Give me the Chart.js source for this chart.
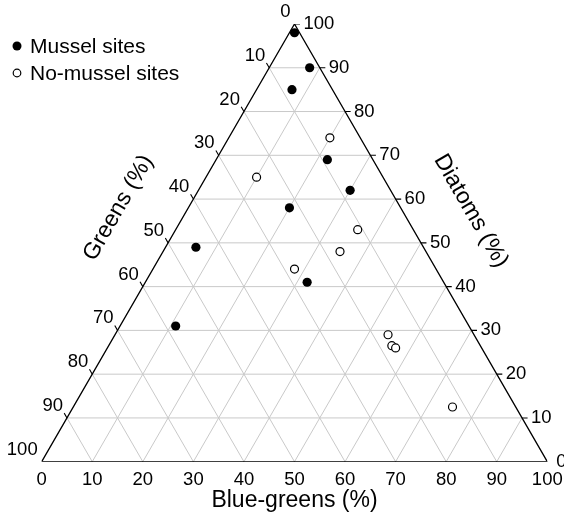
<!DOCTYPE html>
<html>
<head>
<meta charset="utf-8">
<script src="https://cdn.jsdelivr.net/npm/chart.js@4"></script>
<style>
  html, body { margin: 0; padding: 0; background: #fff; }
  canvas { display: block; }
</style>
</head>
<body>
<canvas id="c" width="564" height="516"></canvas>
<script>
// Ternary values (percent). Greens = 100 - blue - diatoms.
const musselBlue    = [1, 8, 7, 22, 30, 20, 6, 32, 11];
const musselDiatom  = [98, 90, 85, 69, 62, 58, 49, 41, 31];
const noMusselBlue   = [20, 10, 36, 35, 28, 54, 56, 57, 75];
const noMusselDiatom = [74, 65, 53, 48, 44, 29, 26.5, 26, 12.5];

const tickValues = [0, 10, 20, 30, 40, 50, 60, 70, 80, 90, 100];
const gridValues = [10, 20, 30, 40, 50, 60, 70, 80, 90];

const H = Math.sqrt(3) / 2;
const FONT_FAMILY = '"Liberation Sans", Arial, Helvetica, sans-serif';
const GRID_COLOR = '#c9c9c9';
const TICK_LEN = 1.1;

// blue-greens / diatoms -> cartesian (x along bottom, y up)
function toXY(b, d) {
  return { x: b + d / 2, y: d * H };
}

function seg(list, p, q) {
  list.push(p, q, { x: NaN, y: null });
}

const gridPts = [];
gridValues.forEach((k) => {
  seg(gridPts, toXY(0, k), toXY(100 - k, k));       // diatoms const
  seg(gridPts, toXY(k, 0), toXY(k, 100 - k));       // blue-greens const
  seg(gridPts, toXY(100 - k, 0), toXY(0, 100 - k)); // greens const
});

const frame = [toXY(0, 0), toXY(100, 0), toXY(0, 100), toXY(0, 0)];

const tickPts = [];
tickValues.forEach((k) => {
  const pb = toXY(k, 0);
  seg(tickPts, pb, { x: pb.x - TICK_LEN * 0.5, y: pb.y - TICK_LEN * H });
  const pr = toXY(100 - k, k);
  seg(tickPts, pr, { x: pr.x + TICK_LEN, y: pr.y });
  const pl = toXY(0, 100 - k);
  seg(tickPts, pl, { x: pl.x - TICK_LEN * 0.5, y: pl.y + TICK_LEN * H });
});

const mussel = musselBlue.map((b, i) => toXY(b, musselDiatom[i]));
const noMussel = noMusselBlue.map((b, i) => toXY(b, noMusselDiatom[i]));

const ternaryText = {
  id: 'ternaryText',
  afterDraw(chart) {
    const { ctx, scales: { x, y } } = chart;
    const px = (p) => ({ x: x.getPixelForValue(p.x), y: y.getPixelForValue(p.y) });
    ctx.save();
    ctx.fillStyle = '#000';
    ctx.font = '18.5px ' + FONT_FAMILY;
    ctx.textBaseline = 'middle';
    // greens labels on the left edge
    ctx.textAlign = 'right';
    tickValues.forEach((g) => {
      const p = px(toXY(0, 100 - g));
      ctx.fillText(String(g), p.x - 4, p.y - 12);
    });
    // diatoms labels on the right edge
    ctx.textAlign = 'left';
    tickValues.forEach((d) => {
      const p = px(toXY(100 - d, d));
      ctx.fillText(String(d), p.x + 9, p.y);
    });

    // rotated axis titles
    ctx.font = '23px ' + FONT_FAMILY;
    ctx.textAlign = 'center';
    const lm = px(toXY(0, 50));
    ctx.save();
    ctx.translate(lm.x - 0.866 * 62 + 4, lm.y - 0.5 * 62 - 4);
    ctx.rotate(-Math.PI / 3);
    ctx.fillText('Greens (%)', 0, 0);
    ctx.restore();
    const rm = px(toXY(50, 50));
    ctx.save();
    ctx.translate(rm.x + 0.866 * 60 - 2, rm.y - 0.5 * 60 - 2);
    ctx.rotate(Math.PI / 3);
    ctx.fillText('Diatoms (%)', 0, 0);
    ctx.restore();

    // legend
    ctx.font = '21px ' + FONT_FAMILY;
    ctx.textAlign = 'left';
    ctx.beginPath();
    ctx.arc(17, 46, 4.5, 0, Math.PI * 2);
    ctx.fill();
    ctx.fillText('Mussel sites', 30, 47);
    ctx.beginPath();
    ctx.arc(17, 73, 3.8, 0, Math.PI * 2);
    ctx.lineWidth = 1.2;
    ctx.strokeStyle = '#000';
    ctx.stroke();
    ctx.fillText('No-mussel sites', 30, 74);
    ctx.restore();
  },
};

new Chart(document.getElementById('c').getContext('2d'), {
  type: 'scatter',
  data: {
    datasets: [
      {
        label: 'Mussel sites',
        data: mussel,
        pointRadius: 4.6,
        pointBackgroundColor: '#000',
        pointBorderColor: '#000',
        pointBorderWidth: 0,
      },
      {
        label: 'No-mussel sites',
        data: noMussel,
        pointRadius: 4,
        pointBackgroundColor: '#fff',
        pointBorderColor: '#000',
        pointBorderWidth: 1.2,
      },
      {
        label: 'frame',
        data: frame,
        showLine: true,
        borderColor: '#000',
        borderWidth: 1.3,
        pointRadius: 0,
      },
      {
        label: 'ticks',
        data: tickPts,
        showLine: true,
        spanGaps: false,
        borderColor: '#000',
        borderWidth: 1.1,
        pointRadius: 0,
      },
      {
        label: 'grid',
        data: gridPts,
        showLine: true,
        spanGaps: false,
        borderColor: GRID_COLOR,
        borderWidth: 1,
        pointRadius: 0,
      },
    ],
  },
  options: {
    responsive: false,
    animation: false,
    devicePixelRatio: 1,
    layout: { padding: { left: 41.7, right: 16.7, top: 24, bottom: 0 } },
    plugins: { legend: { display: false }, tooltip: { enabled: false } },
    scales: {
      x: {
        type: 'linear',
        min: 0,
        max: 100,
        position: 'bottom',
        afterFit: (s) => { s.height = 54.3; },
        grid: { display: false },
        border: { display: false },
        ticks: {
          stepSize: 10,
          color: '#000',
          padding: -1,
          maxRotation: 0,
          font: { family: FONT_FAMILY, size: 18.5 },
        },
        title: {
          display: true,
          text: 'Blue-greens (%)',
          color: '#000',
          font: { family: FONT_FAMILY, size: 23 },
          padding: { top: 0, bottom: 2 },
        },
      },
      y: {
        type: 'linear',
        min: 0,
        max: 100 * H,
        display: false,
      },
    },
  },
  plugins: [ternaryText],
});
</script>
</body>
</html>
